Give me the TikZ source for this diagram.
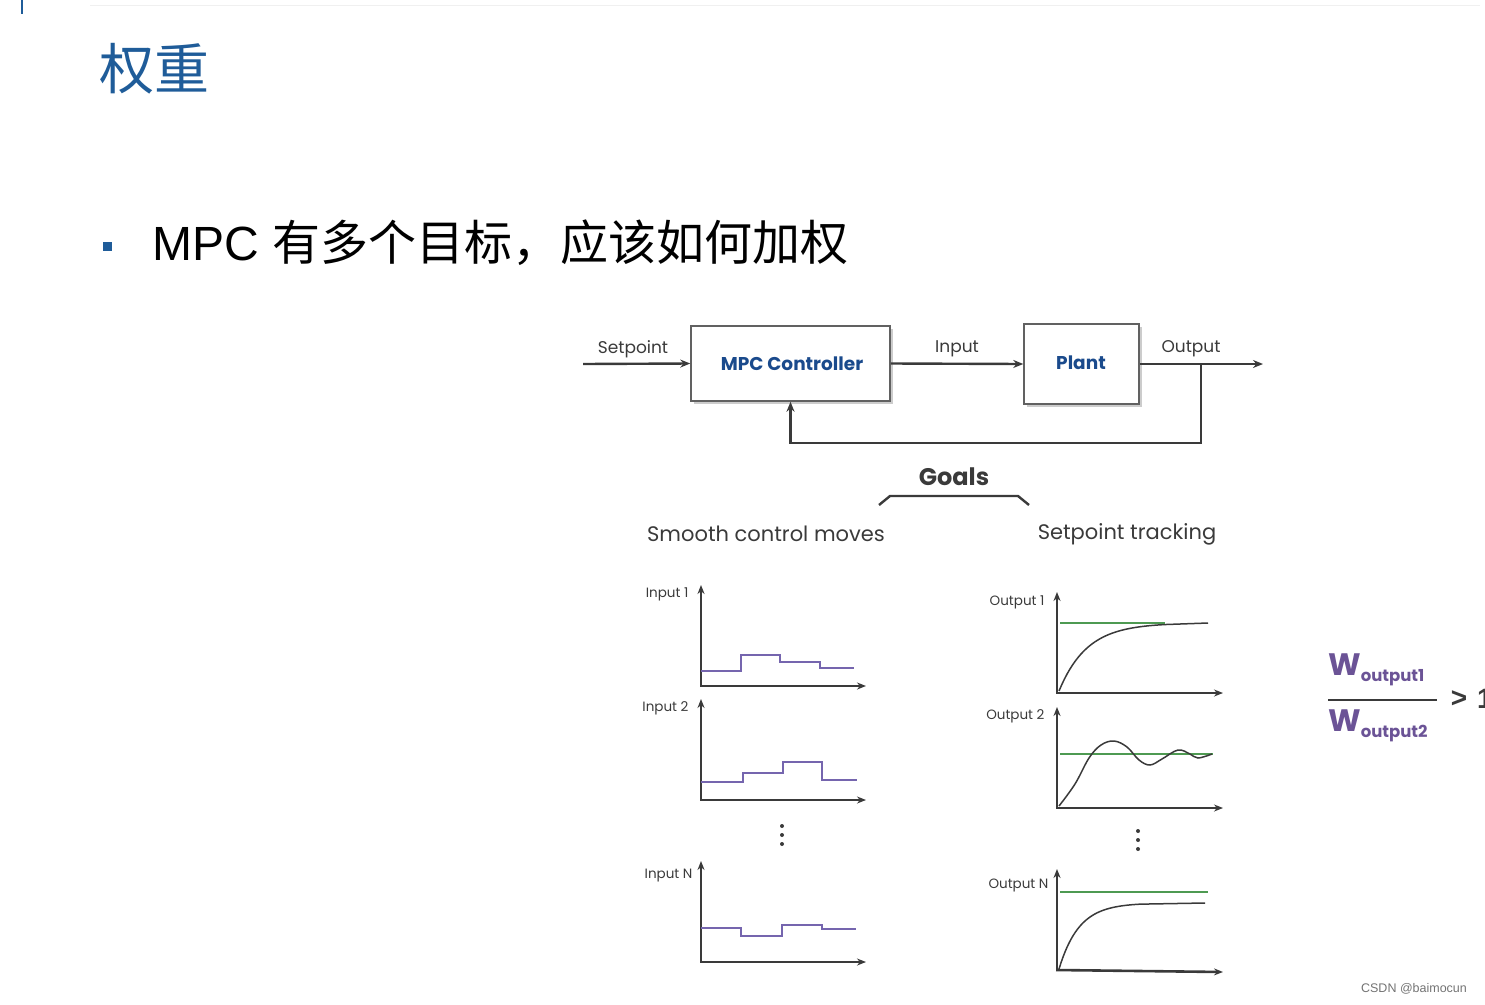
\documentclass[tikz,border=0pt]{standalone}
\usepackage{fontspec}
\newfontfamily\cjk{Noto Sans CJK SC}
\newfontfamily\geo{Poppins}
\newfontfamily\arial{Liberation Sans}
\usetikzlibrary{arrows.meta,shadows}
\definecolor{titleblue}{HTML}{1F5C99}
\definecolor{ctrlblue}{HTML}{1A4A8C}
\definecolor{linegray}{HTML}{3A3A3A}
\definecolor{steppurple}{HTML}{7565AE}
\definecolor{setgreen}{HTML}{4E9A52}
\definecolor{wpurple}{HTML}{6B5396}
\tikzset{
  blockbox/.style={draw=linegray!80, line width=1.5pt, fill=white, inner sep=0pt,
    drop shadow={opacity=0.4, shadow xshift=2.5pt, shadow yshift=-2.5pt}},
  blocktext/.style={text=ctrlblue, font=\geo\bfseries\fontsize{18.5}{18.5}\selectfont},
  sig/.style={line width=2.4pt, draw=linegray, -{Stealth[length=10pt,width=8pt]}},
  sigl/.style={font=\geo\fontsize{17}{17}\selectfont, text=linegray},
  axis/.style={line width=2.6pt, draw=linegray, -{Stealth[length=9pt,width=7pt]}},
  plab/.style={font=\geo\fontsize{13.5}{13.5}\selectfont, text=linegray, anchor=east},
  stepline/.style={line width=1.5pt, draw=steppurple},
  goalline/.style={line width=1.5pt, draw=setgreen},
  resp/.style={line width=1.5pt, draw=linegray},
  goaltext/.style={font=\geo\fontsize{21}{21}\selectfont, text=linegray},
  dot/.style={circle, fill=linegray, inner sep=0pt, minimum size=4pt},
  wtext/.style={text=wpurple, font=\geo\bfseries, inner sep=0pt}
}
\begin{document}
\begin{tikzpicture}[x=1pt,y=-1pt]
\useasboundingbox (0,0) rectangle (1485,1004);
\clip (0,0) rectangle (1485,1004);
% top decorations
\draw[titleblue, line width=1.5pt] (22,0) -- (22,14);
\draw[black!6, line width=1pt] (90,5) -- (1480,5);
% title
\node[anchor=west, text=titleblue, font=\cjk\fontsize{55}{55}\selectfont, inner sep=0pt] (title) at (99,69) {权重};
% bullet
\node[fill=titleblue, minimum size=9pt, inner sep=0pt] (bul) at (107,246) {};
\node[anchor=west, inner sep=0pt, font=\fontsize{48}{48}\selectfont] (bt) at (152,243) {\arial MPC \cjk 有多个目标，应该如何加权};
% block diagram
\node[blockbox, minimum width=199pt, minimum height=75pt] (mpc) at (790.5,363.5) {};
\node[blocktext] (mpct) at (792,364) {MPC Controller};
\node[blockbox, minimum width=115pt, minimum height=80pt] (plant) at (1081.5,364) {};
\node[blocktext] (plantt) at (1081,363) {Plant};
\coordinate (sp) at (583,364);
\coordinate (out) at (1263,364);
\coordinate (fb) at (1201,364);
\coordinate (fbc) at (1201,443);
\draw[sig] (sp) -- (mpc.west);
\draw[sig] (mpc.east) -- (plant.west);
\draw[sig] (plant.east) -- (out);
\draw[sig] (fb) -- (fbc) -| (mpc.south);
\node[sigl] (spl) at (633,349) {Setpoint};
\node[sigl] (inl) at (957,349) {Input};
\node[sigl] (outl) at (1191,349) {Output};
% goals
\node[font=\geo\bfseries\fontsize{24}{24}\selectfont, text=linegray] (goals) at (954,477) {Goals};
\draw[line width=2.4pt, linegray] (879,505) -- (890,496) -- (1018,496) -- (1029,505);
\node[goaltext] (smooth) at (766,534) {Smooth control moves};
\node[goaltext] (track) at (1127,534) {Setpoint tracking};
% ---- input plots
\draw[axis] (701,686) -- (701,585);
\draw[axis] (700,686) -- (866,686);
\node[plab] (i1) at (692,594) {Input 1};
\draw[stepline] (701,671) -- (741,671) -- (741,655) -- (780,655) -- (780,662) -- (820,662) -- (820,668) -- (854,668);

\draw[axis] (701,800) -- (701,699);
\draw[axis] (700,800) -- (866,800);
\node[plab] (i2) at (692,708) {Input 2};
\draw[stepline] (701,782) -- (743,782) -- (743,773) -- (783,773) -- (783,762) -- (822,762) -- (822,780) -- (857,780);

\node[dot] (d1) at (782,826) {};
\node[dot] (d2) at (782,835) {};
\node[dot] (d3) at (782,844) {};

\draw[axis] (701,962) -- (701,861);
\draw[axis] (700,962) -- (866,962);
\node[plab] (iN) at (696,876) {Input N};
\draw[stepline] (701,928) -- (741,928) -- (741,936) -- (782,936) -- (782,925) -- (822,925) -- (822,929) -- (856,929);

% ---- output plots
\draw[axis] (1057,693) -- (1057,592);
\draw[axis] (1056,693) -- (1223,693);
\node[plab] (o1) at (1048,602) {Output 1};
\draw[goalline] (1060,623) -- (1165,623);
\draw[resp] plot[domain=1059:1165, samples=40] (\x, {623+68*exp(-(\x-1059)/28)}) -- (1208,623);

\draw[axis] (1057,808) -- (1057,707);
\draw[axis] (1056,808) -- (1223,808);
\node[plab] (o2) at (1048,716) {Output 2};
\draw[goalline] (1060,754) -- (1213,754);
\draw[resp] plot[smooth, tension=0.6] coordinates {(1059,806) (1075,784) (1089,758) (1101,745) (1114,741) (1127,747) (1139,760) (1150,765) (1162,759) (1178,750) (1190,754) (1198,758) (1212,754)};

\node[dot] (d4) at (1138,831) {};
\node[dot] (d5) at (1138,840) {};
\node[dot] (d6) at (1138,849) {};

\draw[axis] (1057,970) -- (1057,869);
\draw[axis] (1056,970) -- (1223,972);
\node[plab] (oN) at (1052,885) {Output N};
\draw[goalline] (1060,892) -- (1208,892);
\draw[resp] plot[domain=1059:1140, samples=40] (\x, {903+66*exp(-(\x-1059)/20)}) -- (1205,903);

% ---- weight ratio
\node[wtext, anchor=west] (w1) at (1328,670) {\fontsize{31}{31}\selectfont W\raisebox{-6pt}{\fontsize{16.5}{16.5}\selectfont output1}};
\node[wtext, anchor=west] (w2) at (1328,726) {\fontsize{31}{31}\selectfont W\raisebox{-6pt}{\fontsize{16.5}{16.5}\selectfont output2}};
\draw[line width=1.8pt, linegray] (1328,700) -- (1437,700);
\node[font=\arial\bfseries\fontsize{28}{28}\selectfont, text=linegray] (gt) at (1459,699) {>};
\node[font=\arial\bfseries\fontsize{28}{28}\selectfont, text=linegray, anchor=west, inner sep=0pt] (one) at (1477,699) {1};
% watermark
\node[font=\arial\fontsize{12.5}{12.5}\selectfont, text=black!55] (wm) at (1414,989) {CSDN @baimocun};
\end{tikzpicture}
\end{document}
